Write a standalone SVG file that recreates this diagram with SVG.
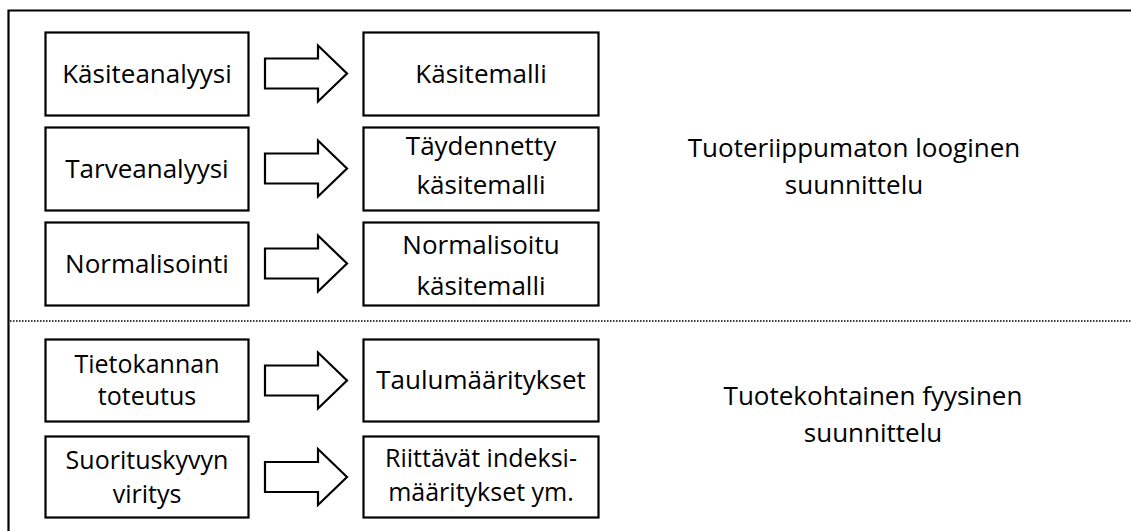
<svg xmlns="http://www.w3.org/2000/svg" width="1131" height="531" viewBox="0 0 1131 531">
  <style>
    .box { fill: #fff; stroke: #000; stroke-width: 2.2; }
    .arrow { fill: #fff; stroke: #000; stroke-width: 2.2; stroke-linejoin: miter; }
    text { font-family: "Open Sans", "Noto Sans", sans-serif; font-size: 26px; fill: #000; text-anchor: middle; }
    .tight { font-size: 25px; }
    .frame { fill: none; stroke: #000; stroke-width: 2.2; }
    .divider { stroke: #000; stroke-width: 1.5; stroke-dasharray: 1.5 1.5; }
  </style>
  <defs>
    <!-- block arrow centred on its tip height -->
    <path id="blockArrow" class="arrow" d="M0,-15 H53 V-28 L82,0 L53,28 V15 H0 Z"/>
  </defs>

  <rect width="1131" height="531" fill="#fff"/>

  <!-- outer frame (open to the right and bottom) -->
  <path class="frame" d="M8.5,531 V10.5 H1131"/>
  <line class="divider" x1="10" y1="321" x2="1131" y2="321"/>

  <!-- connectors -->
  <g id="connectors">
    <use href="#blockArrow" x="265" y="73.5"/>
    <use href="#blockArrow" x="265" y="168.5"/>
    <use href="#blockArrow" x="265" y="263.5"/>
    <use href="#blockArrow" x="265" y="380.5"/>
    <use href="#blockArrow" x="265" y="477"/>
  </g>

  <g id="kasiteanalyysi">
    <rect class="box" x="45.5" y="32.5" width="203" height="83"/>
    <text x="147" y="83">Käsiteanalyysi</text>
  </g>
  <g id="kasitemalli">
    <rect class="box" x="363.5" y="32.5" width="235" height="83"/>
    <text x="481" y="83">Käsitemalli</text>
  </g>

  <g id="tarveanalyysi">
    <rect class="box" x="45.5" y="127.5" width="203" height="83"/>
    <text x="147" y="178">Tarveanalyysi</text>
  </g>
  <g id="taydennetty-kasitemalli">
    <rect class="box" x="363.5" y="127.5" width="235" height="83"/>
    <text x="481" y="155">Täydennetty</text>
    <text x="481" y="194">käsitemalli</text>
  </g>

  <g id="normalisointi">
    <rect class="box" x="45.5" y="222.5" width="203" height="83"/>
    <text x="147" y="273">Normalisointi</text>
  </g>
  <g id="normalisoitu-kasitemalli">
    <rect class="box" x="363.5" y="222.5" width="235" height="83"/>
    <text x="481" y="254">Normalisoitu</text>
    <text x="481" y="295">käsitemalli</text>
  </g>

  <g id="tietokannan-toteutus">
    <rect class="box" x="45.5" y="339.5" width="203" height="82"/>
    <text class="tight" x="147" y="373">Tietokannan</text>
    <text class="tight" x="147" y="405">toteutus</text>
  </g>
  <g id="taulumaaritykset">
    <rect class="box" x="363.5" y="339.5" width="235" height="82"/>
    <text x="481" y="389">Taulumääritykset</text>
  </g>

  <g id="suorituskyvyn-viritys">
    <rect class="box" x="45.5" y="436.5" width="203" height="81"/>
    <text class="tight" x="147" y="469">Suorituskyvyn</text>
    <text class="tight" x="147" y="503">viritys</text>
  </g>
  <g id="indeksimaaritykset">
    <rect class="box" x="363.5" y="436.5" width="235" height="81"/>
    <text class="tight" x="481" y="467">Riittävät indeksi-</text>
    <text class="tight" x="481" y="501">määritykset ym.</text>
  </g>

  <g id="logical-design">
    <text x="854" y="157">Tuoteriippumaton looginen</text>
    <text x="854" y="194">suunnittelu</text>
  </g>
  <g id="physical-design">
    <text x="873" y="405">Tuotekohtainen fyysinen</text>
    <text x="873" y="442">suunnittelu</text>
  </g>
</svg>
